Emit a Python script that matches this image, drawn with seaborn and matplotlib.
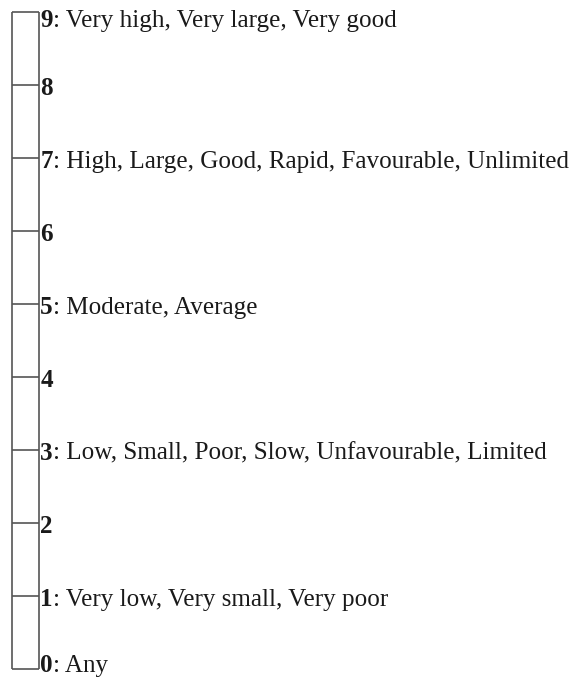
import matplotlib
matplotlib.use("Agg")
import matplotlib.pyplot as plt
from matplotlib import font_manager
from matplotlib.font_manager import FontProperties
import seaborn as sns

# rating scale: levels and their descriptions
LEVELS = [9, 8, 7, 6, 5, 4, 3, 2, 1, 0]
DESCRIPTIONS = [
    "Very high, Very large, Very good",
    "",
    "High, Large, Good, Rapid, Favourable, Unlimited",
    "",
    "Moderate, Average",
    "",
    "Low, Small, Poor, Slow, Unfavourable, Limited",
    "",
    "Very low, Very small, Very poor",
    "Any",
]

sns.set_theme(style="white")
plt.rcParams["font.family"] = ["Liberation Serif", "DejaVu Serif"]

LINE_COLOR = "#555555"
TEXT_COLOR = "#1a1a1a"
FONT_SIZE = 18.1


def serif_font(weight):
    # pick the Liberation Serif file directly so no fallback happens
    for f in font_manager.fontManager.ttflist:
        if f.name == "Liberation Serif" and f.weight == weight and f.style == "normal":
            return FontProperties(fname=f.fname, size=FONT_SIZE)
    return FontProperties(family="serif", weight=weight, size=FONT_SIZE)


fp_reg = serif_font(400)
fp_bold = serif_font(700)

fig = plt.figure(figsize=(5.73, 6.77), dpi=100)
ax = fig.add_axes([0, 0, 1, 1])
ax.set_xlim(0, 1)
ax.set_ylim(-0.11, 9.164)
ax.axis("off")

x_left, x_right = 0.021, 0.068
lo, hi = min(LEVELS), max(LEVELS)

# scale bar: two vertical sides and one horizontal line per level
ax.vlines([x_left, x_right], lo, hi, color=LINE_COLOR, lw=1.2)
ax.hlines(LEVELS, x_left, x_right, color=LINE_COLOR, lw=1.2)

for lvl, desc in zip(LEVELS, DESCRIPTIONS):
    dy = -4.5 if lvl == hi else (4.0 if lvl == lo else -0.5)
    t = ax.annotate(str(lvl), xy=(x_right, lvl), xytext=(1.0, dy),
                    textcoords="offset points", fontproperties=fp_bold,
                    color=TEXT_COLOR, va="center_baseline", ha="left")
    if desc:
        ax.annotate(": " + desc, xy=(1, 0), xycoords=t, fontproperties=fp_reg,
                    color=TEXT_COLOR, va="bottom", ha="left")

fig.savefig("out.png", dpi=100)
